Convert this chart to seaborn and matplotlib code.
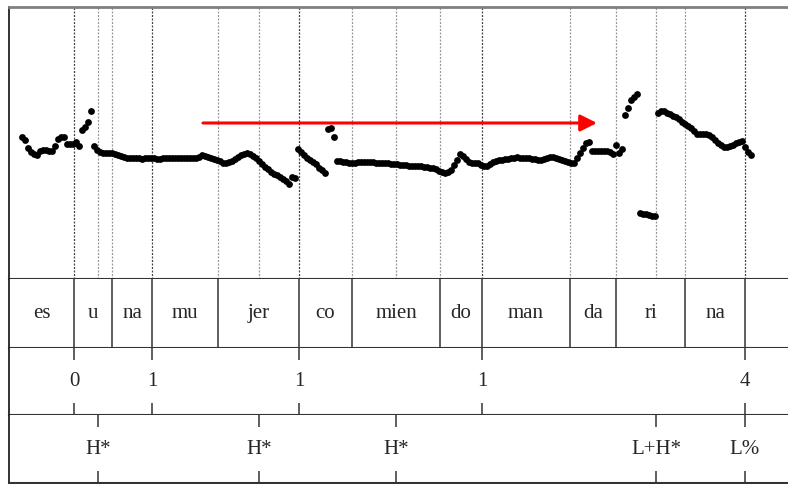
import numpy as np
import matplotlib
matplotlib.use("Agg")
import matplotlib.pyplot as plt
import seaborn as sns

# pitch track (Hz), one value per analysis frame
frame_start = 0.052   # s, first voiced frame
frame_step = 0.012    # s
f0_values = [
    217, 214, 206, 202, 200, 199, 203, 204, 204, 203.5,
    203, 208, 215, 217, 217, 210, 210, 210.5, 212, 208,
    224, 227, 232, 243, 208, 204, 202.5, 201.5, 201.3, 201.3,
    201.3, 200, 199, 198, 197, 196.5, 196, 195.7, 196, 196,
    195.5, 196, 195.7, 196, 195.7, 195.5, 195.5, 196, 195.7, 196,
    196, 195.7, 196, 196, 196, 196.3, 196.5, 196.3, 196.5, 197.5,
    199, 198.5, 197.5, 196.5, 195.5, 194.5, 193, 191.5, 190.7, 192,
    193.5, 195, 197, 199.5, 200.5, 200.7, 200, 198.5, 196.5, 193.5,
    190.5, 187.5, 185, 182.5, 180.5, 179, 177, 175.5, 173, 170.5,
    177, 176.5, 205, 202, 199, 196.5, 194, 192, 190, 186.5,
    184, 181.3, 225, 226, 217, 193.5, 193, 192.5, 192, 191.5,
    191.3, 191.5, 191.7, 192, 192, 192, 192, 191.7, 191.5, 191.5,
    191.3, 191, 190.7, 190.5, 190, 189.7, 189.5, 189.3, 189, 188.5,
    188, 188, 188.5, 188, 187.3, 187, 186.5, 185.7, 185, 183.5,
    182.5, 181.3, 182.5, 184.5, 189, 194, 200.5, 198, 195, 192.5,
    191.3, 191, 190.7, 189, 187.7, 188, 190.5, 192.3, 193.5, 194,
    194.5, 195, 195.5, 196, 196.5, 196.7, 196.5, 196.5, 196, 195.7,
    195.5, 195, 194.5, 194, 195, 196, 197, 197.3, 196.5, 195.5,
    194.5, 193.5, 192.5, 191.5, 191, 196, 201, 206, 210.7, 212,
    203.5, 203.5, 203.3, 203.3, 203.3, 203, 202.5, 200.5, 209, 201,
    205, 239, 246.5, 254, 257, 260.5, 141.5, 140.5, 139.7, 139,
    138.5, 138, 241, 243.5, 243, 241.5, 240.5, 238.5, 237, 235,
    232.5, 230, 228, 226, 223, 220.5, 220, 220, 220, 219,
    217.5, 214.5, 211, 209, 207.5, 207.5, 208, 209.5, 211, 212,
    213, 207.3, 202, 199.5,
]

# syllable tier: interval boundaries (s) and labels
syllable_bounds = [0.0, 0.260, 0.412, 0.572, 0.836, 1.160, 1.372, 1.724,
                   1.892, 2.244, 2.428, 2.704, 2.944, 3.116]
syllable_labels = ["es", "u", "na", "mu", "jer", "co", "mien", "do",
                   "man", "da", "ri", "na", ""]

# break index tier (points)
break_times = [0.260, 0.572, 1.160, 1.892, 2.944]
break_labels = ["0", "1", "1", "1", "4"]

# tone tier (points)
tone_times = [0.356, 1.000, 1.548, 2.588, 2.944]
tone_labels = ["H*", "H*", "H*", "L+H*", "L%"]

# arrow drawn over the plateau
arrow_start = (0.776, 231)
arrow_end = (2.352, 231)

t_max = syllable_bounds[-1]
f0_min, f0_max = 75, 347

sns.set_style("white")
plt.rcParams["font.family"] = ["Liberation Serif", "DejaVu Serif"]

times = frame_start + frame_step * np.arange(len(f0_values))

fig = plt.figure(figsize=(7.88, 4.84), dpi=100)
W, H = 788, 484
left = 9 / W
width = 779 / W
ax = fig.add_axes([left, 1 - 279 / H, width, 272 / H])
ax_syl = fig.add_axes([left, 1 - 348 / H, width, 69 / H])
ax_brk = fig.add_axes([left, 1 - 415 / H, width, 67 / H])
ax_tone = fig.add_axes([left, 1 - 483 / H, width, 68 / H])

# pitch panel
all_marks = sorted(set(syllable_bounds[1:-1]) | set(tone_times) | set(break_times))
for t in all_marks:
    dark = t in break_times
    ax.axvline(t, color="#444444" if dark else "#9a9a9a", lw=0.9,
               linestyle=(0, (1.6, 1.2)), zorder=1)
sns.scatterplot(x=times, y=f0_values, ax=ax, color="black", s=24,
                linewidth=0, zorder=3)
ax.annotate("", xy=arrow_end, xytext=arrow_start,
            arrowprops=dict(arrowstyle="-|>,head_length=1.0,head_width=0.5",
                            color="red", lw=2.2, shrinkA=0, shrinkB=0,
                            mutation_scale=10), zorder=4)
ax.set_xlim(0, t_max)
ax.set_ylim(f0_min, f0_max)
ax.set_xticks([])
ax.set_yticks([f0_min, 182])
ax.tick_params(axis="y", length=4, width=1.2, color="#333333", labelleft=False)
ax.spines["right"].set_visible(False)
ax.spines["top"].set_color("#808080")
ax.spines["top"].set_linewidth(2)
ax.spines["left"].set_color("#222222")
ax.spines["left"].set_linewidth(1.3)
ax.spines["bottom"].set_color("#333333")
ax.spines["bottom"].set_linewidth(1.5)

for a in (ax_syl, ax_brk, ax_tone):
    a.set_xlim(0, t_max)
    a.set_ylim(0, 1)
    a.set_xticks([])
    a.set_yticks([])
    a.spines["right"].set_visible(False)
    a.spines["top"].set_visible(False)
    a.spines["bottom"].set_color("#333333")
    a.spines["bottom"].set_linewidth(1.5)
    a.spines["left"].set_color("#222222")
    a.spines["left"].set_linewidth(1.3)

# syllables
for b in syllable_bounds[1:-1]:
    ax_syl.axvline(b, color="#333333", lw=1.1)
for lo, hi, lab in zip(syllable_bounds[:-1], syllable_bounds[1:], syllable_labels):
    ax_syl.text((lo + hi) / 2, 0.5, lab, ha="center", va="center", fontsize=15)

# point tiers
tick = 12 / 67
for a, pts, labs in ((ax_brk, break_times, break_labels),
                     (ax_tone, tone_times, tone_labels)):
    for t, lab in zip(pts, labs):
        a.vlines(t, 1 - tick, 1, color="#333333", lw=1.1)
        a.vlines(t, 0, tick, color="#333333", lw=1.1)
        a.text(t, 0.5, lab, ha="center", va="center", fontsize=15)

fig.savefig("out.png", dpi=100)
